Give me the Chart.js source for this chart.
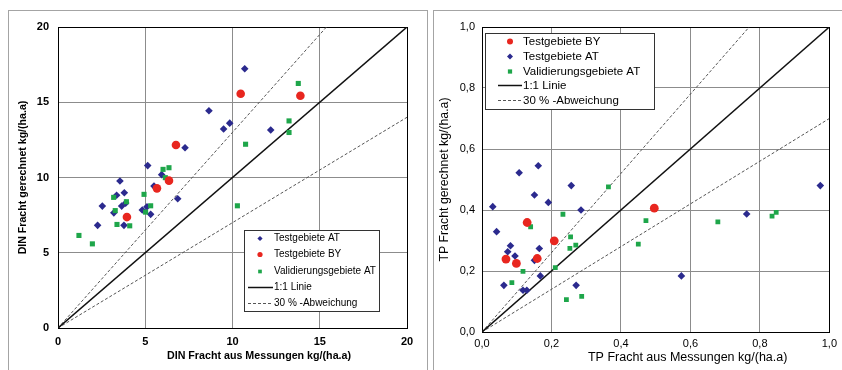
<!DOCTYPE html>
<html>
<head>
<meta charset="utf-8">
<script src="https://cdn.jsdelivr.net/npm/chart.js@4.4.1/dist/chart.umd.min.js"></script>
<style>
  body { margin: 0; width: 842px; height: 370px; overflow: hidden; position: relative; background: #fff; }
  .frame { position: absolute; top: 10px; height: 380px; border: 1px solid #a4a4a4; box-sizing: border-box; }
  canvas { position: absolute; }
</style>
</head>
<body>
<div class="frame" style="left:8px; width:420px;"></div>
<div class="frame" style="left:433px; width:420px;"></div>
<canvas id="dinChart" width="419" height="360" style="left:8px; top:10px;"></canvas>
<canvas id="tpChart" width="409" height="360" style="left:433px; top:10px;"></canvas>
<script>
// DIN: [measured, computed] in kg/(ha.a)
const dinTestAT = [
  [10.70, 17.23], [8.65, 14.44], [9.49, 13.22], [9.84, 13.61], [12.19, 13.16],
  [7.28, 11.98], [5.14, 10.79], [5.94, 10.19], [5.50, 9.43], [6.86, 8.59],
  [3.55, 9.77], [3.36, 8.82], [3.80, 8.99], [3.65, 8.10], [3.88, 8.30],
  [3.20, 7.65], [2.54, 8.10], [2.27, 6.82], [3.78, 6.82],
  [4.83, 7.84], [5.10, 8.06], [5.31, 7.55]
];
const dinTestBY = [
  [3.95, 7.37], [5.67, 9.28], [6.36, 9.79], [6.76, 12.16], [10.47, 15.56], [13.89, 15.43]
];
const dinValidAT = [
  [1.20, 6.15], [1.97, 5.59], [3.19, 8.68], [3.28, 7.80], [3.38, 6.88], [3.92, 8.39],
  [4.11, 6.79], [4.93, 8.88], [5.02, 7.70], [5.31, 8.12], [6.02, 10.54], [6.36, 10.65],
  [6.15, 9.99], [10.28, 8.12], [10.75, 12.21], [13.24, 13.76], [13.24, 12.99], [13.77, 16.25]
];
const dinTicks = [0, 5, 10, 15, 20];
const dinTickLabels = ['0', '5', '10', '15', '20'];

// TP: [measured, computed] in kg/(ha.a)
const tpTestBY = [
  [0.069, 0.239], [0.099, 0.225], [0.130, 0.359], [0.159, 0.241], [0.208, 0.299], [0.496, 0.406]
];
const tpTestAT = [
  [0.031, 0.411], [0.042, 0.329], [0.107, 0.522], [0.162, 0.545], [0.151, 0.449],
  [0.191, 0.425], [0.257, 0.480], [0.285, 0.400], [0.082, 0.283], [0.074, 0.263],
  [0.095, 0.249], [0.165, 0.274], [0.151, 0.235], [0.168, 0.184], [0.063, 0.153],
  [0.118, 0.137], [0.129, 0.137], [0.271, 0.153], [0.574, 0.184], [0.762, 0.387],
  [0.974, 0.480]
];
const tpValidAT = [
  [0.086, 0.162], [0.118, 0.199], [0.140, 0.345], [0.211, 0.211], [0.233, 0.386],
  [0.255, 0.312], [0.253, 0.274], [0.270, 0.285], [0.243, 0.106], [0.287, 0.117],
  [0.364, 0.476], [0.450, 0.288], [0.472, 0.365], [0.679, 0.361], [0.835, 0.380],
  [0.847, 0.392]
];
const tpTicks = [0, 0.2, 0.4, 0.6, 0.8, 1.0];
const tpTickLabels = ['0,0', '0,2', '0,4', '0,6', '0,8', '1,0'];

const deviation = 0.3;

const BLUE = '#2b2a8e';
const RED = '#e8261f';
const GREEN = '#1ea64a';
const FONT = '"Liberation Sans", Arial, sans-serif';

Chart.defaults.font.family = FONT;
Chart.defaults.color = '#000';

const toXY = (pairs) => pairs.map(([x, y]) => ({ x, y }));

function drawMarker(ctx, style, x, y, r, color) {
  ctx.fillStyle = color;
  ctx.beginPath();
  if (style === 'circle') {
    ctx.arc(x, y, r, 0, Math.PI * 2);
  } else if (style === 'rectRot') {
    ctx.moveTo(x - r, y); ctx.lineTo(x, y - r); ctx.lineTo(x + r, y); ctx.lineTo(x, y + r);
    ctx.closePath();
  } else {
    const s = r * Math.SQRT1_2;
    ctx.rect(x - s, y - s, 2 * s, 2 * s);
  }
  ctx.fill();
}

// black box round the plot area
const plotFrame = {
  id: 'plotFrame',
  beforeDatasetsDraw(chart) {
    const { ctx, chartArea: a } = chart;
    ctx.save();
    ctx.strokeStyle = '#000';
    ctx.lineWidth = 1;
    ctx.strokeRect(Math.round(a.left) + 0.5, Math.round(a.top) + 0.5,
      Math.round(a.right - a.left), Math.round(a.bottom - a.top));
    ctx.restore();
  }
};

// boxed legend drawn inside the plot
const legendBox = {
  id: 'legendBox',
  afterDatasetsDraw(chart, args, o) {
    const ctx = chart.ctx;
    const [bx, by, bw, bh] = o.box;
    ctx.save();
    ctx.fillStyle = '#fff';
    ctx.fillRect(bx, by, bw, bh);
    ctx.strokeStyle = '#333';
    ctx.lineWidth = 1;
    ctx.strokeRect(bx + 0.5, by + 0.5, bw, bh);
    ctx.font = o.font;
    ctx.textBaseline = 'middle';
    let row = 0;
    chart.data.datasets.forEach((ds) => {
      if (ds.legend === false) return;
      const y = Math.round(o.firstRow + row * o.rowStep) + 0.5;
      if (ds.showLine) {
        ctx.strokeStyle = ds.borderColor;
        ctx.lineWidth = ds.borderWidth;
        ctx.setLineDash(ds.borderDash || []);
        ctx.beginPath();
        ctx.moveTo(o.lineX[0], y);
        ctx.lineTo(o.lineX[1], y);
        ctx.stroke();
        ctx.setLineDash([]);
      } else {
        drawMarker(ctx, ds.pointStyle, o.symbolX, y, o.symbolR, ds.backgroundColor);
      }
      ctx.fillStyle = '#000';
      ctx.fillText(ds.label, o.textX, y);
      row++;
    });
    ctx.restore();
  }
};

// x axis title, placed off-centre like in the original
const axisCaption = {
  id: 'axisCaption',
  afterDraw(chart, args, o) {
    const { ctx, chartArea: a } = chart;
    ctx.save();
    ctx.font = o.font;
    ctx.fillStyle = '#000';
    ctx.textAlign = 'center';
    ctx.textBaseline = 'middle';
    ctx.fillText(o.text, (a.left + a.right) / 2 + o.dx, o.y);
    ctx.restore();
  }
};

function pointSet(label, pairs, style, color, radius, order) {
  return {
    label, data: toXY(pairs), pointStyle: style, pointRadius: radius,
    backgroundColor: color, borderColor: color, borderWidth: 0, order
  };
}

function refLines(max) {
  const up = 1 + deviation, down = 1 - deviation;
  const line = { showLine: true, pointRadius: 0, fill: false, tension: 0 };
  return [
    { ...line, label: '1:1 Linie', data: [{ x: 0, y: 0 }, { x: max, y: max }],
      borderColor: '#111', borderWidth: 1.5, order: 5 },
    { ...line, label: '30 % -Abweichung', data: [{ x: 0, y: 0 }, { x: max / up, y: max }],
      borderColor: '#555', borderWidth: 1, borderDash: [3, 2], order: 6 },
    { ...line, label: '30 % -Abweichung', legend: false, data: [{ x: 0, y: 0 }, { x: max, y: max * down }],
      borderColor: '#555', borderWidth: 1, borderDash: [3, 2], order: 6 }
  ];
}

function axis(ticks, labels, tickFont, pad, fit) {
  return {
    type: 'linear',
    min: ticks[0],
    max: ticks[ticks.length - 1],
    afterBuildTicks: (s) => { s.ticks = ticks.map((v) => ({ value: v })); },
    afterFit: fit,
    grid: { color: '#8c8c8c', lineWidth: 1, drawTicks: false },
    border: { display: false },
    ticks: { font: tickFont, padding: pad, callback: (v, i) => labels[i] }
  };
}

new Chart(document.getElementById('dinChart'), {
  type: 'scatter',
  data: {
    datasets: [
      pointSet('Testgebiete AT', dinTestAT, 'rectRot', BLUE, 3.8, 3),
      pointSet('Testgebiete BY', dinTestBY, 'circle', RED, 4.3, 1),
      pointSet('Validierungsgebiete AT', dinValidAT, 'rect', GREEN, 3.6, 2),
      ...refLines(20)
    ]
  },
  options: {
    responsive: false,
    devicePixelRatio: 1,
    animation: false,
    events: [],
    layout: { padding: { left: 0, right: 20, top: 17, bottom: 0 } },
    scales: {
      x: axis(dinTicks, dinTickLabels, { size: 11, weight: 'bold' }, 7, (s) => { s.height = 42; }),
      y: {
        ...axis(dinTicks, dinTickLabels, { size: 11, weight: 'bold' }, 9, (s) => { s.width = 50; }),
        title: { display: true, text: 'DIN Fracht gerechnet kg/(ha.a)',
          font: { size: 10.6, weight: 'bold' }, padding: { top: 8.6, bottom: 0 } }
      }
    },
    plugins: {
      legend: { display: false },
      tooltip: { enabled: false },
      legendBox: {
        box: [236, 220, 135, 81], font: '10px ' + FONT,
        firstRow: 228, rowStep: 16.3, symbolX: 252, symbolR: 2.6, textX: 266, lineX: [240, 265]
      },
      axisCaption: { text: 'DIN Fracht aus Messungen kg/(ha.a)', font: 'bold 10.7px ' + FONT, dx: 26.5, y: 346 }
    }
  },
  plugins: [plotFrame, legendBox, axisCaption]
});

new Chart(document.getElementById('tpChart'), {
  type: 'scatter',
  data: {
    datasets: [
      pointSet('Testgebiete BY', tpTestBY, 'circle', RED, 4.4, 1),
      pointSet('Testgebiete AT', tpTestAT, 'rectRot', BLUE, 3.8, 3),
      pointSet('Validierungsgebiete AT', tpValidAT, 'rect', GREEN, 3.4, 2),
      ...refLines(1)
    ]
  },
  options: {
    responsive: false,
    devicePixelRatio: 1,
    animation: false,
    events: [],
    layout: { padding: { left: 0, right: 7, top: 17, bottom: 0 } },
    scales: {
      x: axis(tpTicks, tpTickLabels, { size: 11 }, 5, (s) => { s.height = 38; }),
      y: {
        ...axis(tpTicks, tpTickLabels, { size: 11 }, 7, (s) => { s.width = 49; }),
        title: { display: true, text: 'TP Fracht gerechnet kg/(ha.a)',
          font: { size: 12.3 }, padding: { top: 4.6, bottom: 0 } }
      }
    },
    plugins: {
      legend: { display: false },
      tooltip: { enabled: false },
      legendBox: {
        box: [52, 23, 169, 76], font: '11.5px ' + FONT,
        firstRow: 31, rowStep: 14.8, symbolX: 77, symbolR: 3, textX: 90, lineX: [65, 89]
      },
      axisCaption: { text: 'TP Fracht aus Messungen kg/(ha.a)', font: '12.5px ' + FONT, dx: 32, y: 348 }
    }
  },
  plugins: [plotFrame, legendBox, axisCaption]
});
</script>
</body>
</html>
